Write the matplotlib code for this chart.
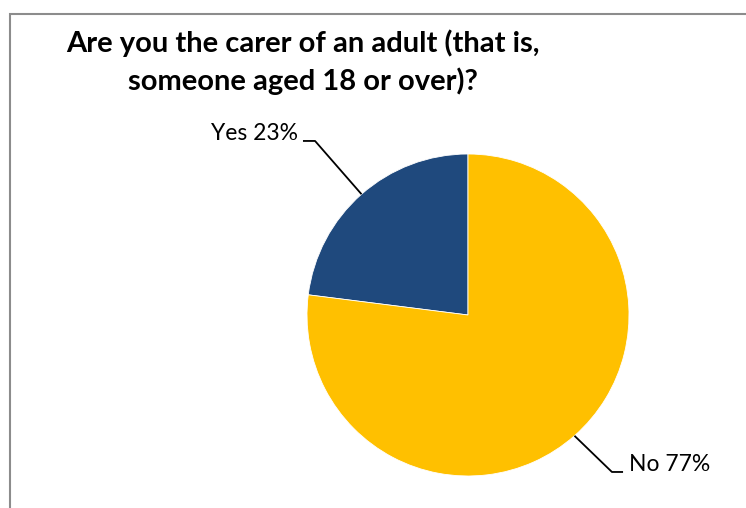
import numpy as np
import matplotlib
matplotlib.use("Agg")
import matplotlib.pyplot as plt
from matplotlib.patches import Rectangle

# Survey responses
categories = ["Yes", "No"]
shares = [23, 77]
colors = ["#1F497D", "#FFC000"]
title_lines = ["Are you the carer of an adult (that is,", "someone aged 18 or over)?"]

W, H = 746, 508
fig = plt.figure(figsize=(W / 100, H / 100), dpi=100)
fig.patch.set_facecolor("white")

# chart area border
fig.add_artist(Rectangle((10 / W, -0.1), 1.2, (H - 14.5) / H + 0.1,
                         transform=fig.transFigure, fill=False,
                         edgecolor="#8C8C8C", linewidth=1.5))

# pie axes: centre (468, 315) px, radius 161 px
cx, cy, r = 468, 315, 161
ax = fig.add_axes([(cx - r) / W, (H - cy - r) / H, 2 * r / W, 2 * r / H])

wedges, _ = ax.pie(shares, colors=colors, startangle=90, counterclock=True,
                   radius=1, wedgeprops=dict(edgecolor="white", linewidth=0.6))
ax.set_xlim(-1, 1)
ax.set_ylim(-1, 1)
ax.set_aspect("equal")
ax.axis("off")

# labels with elbow leader lines
font = "Lato"
label_cfg = {
    "Yes": dict(elbow=(-0.95, 1.081), end=(-1.025, 1.081), text=(-1.056, 1.125), ha="right"),
    "No": dict(elbow=(0.894, -0.975), end=(0.963, -0.975), text=(0.999, -0.93), ha="left"),
}
for w, cat, val in zip(wedges, categories, shares):
    mid = np.deg2rad((w.theta1 + w.theta2) / 2)
    p0 = (np.cos(mid), np.sin(mid))
    cfg = label_cfg[cat]
    ax.plot([p0[0], cfg["elbow"][0], cfg["end"][0]],
            [p0[1], cfg["elbow"][1], cfg["end"][1]],
            color="black", linewidth=1.3, clip_on=False, solid_capstyle="butt")
    ax.text(cfg["text"][0], cfg["text"][1], f"{cat} {val}%", ha=cfg["ha"], va="center",
            fontsize=16.5, family=font, color="black", clip_on=False)

# title, two centred lines
fig.text(303 / W, 1 - 52 / H, title_lines[0], ha="center", va="baseline",
         fontsize=21, fontweight="bold", family=font)
fig.text(303 / W, 1 - 90 / H, title_lines[1], ha="center", va="baseline",
         fontsize=21, fontweight="bold", family=font)

fig.savefig("out.png", dpi=100, facecolor="white")
